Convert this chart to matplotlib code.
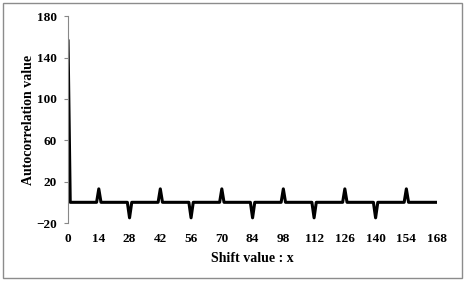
import numpy as np
import matplotlib
matplotlib.use("Agg")
import matplotlib.pyplot as plt
from matplotlib.patches import Rectangle

# Data
shift_values = np.arange(0, 169)
spike_lags = [0, 14, 28, 42, 56, 70, 84, 98, 112, 126, 140, 154]
spike_values = [156, 13, -15, 13, -15, 13, -15, 13, -15, 13, -15, 13]
x_ticks = [0, 14, 28, 42, 56, 70, 84, 98, 112, 126, 140, 154, 168]
y_ticks = [-20, 20, 60, 100, 140, 180]

autocorr = np.zeros(len(shift_values))
for lag, val in zip(spike_lags, spike_values):
    autocorr[lag] = val

plt.rcParams['font.family'] = ['Liberation Serif', 'DejaVu Serif']
plt.rcParams['font.weight'] = 'bold'

fig = plt.figure(figsize=(4.66, 2.83), dpi=100)
ax = fig.add_axes([0.146, 0.212, 0.792, 0.731])
ax.plot(shift_values, autocorr, color='black', linewidth=2.2, solid_joinstyle='round')

ax.set_xlim(0, 168)
ax.set_ylim(-20, 180)
ax.set_xticks(x_ticks)
ax.set_yticks(y_ticks)
for s in ['top', 'right', 'bottom']:
    ax.spines[s].set_visible(False)
ax.spines['left'].set_color('#888888')
ax.spines['left'].set_linewidth(0.8)
ax.tick_params(axis='x', length=0, pad=7, labelsize=9.5)
ax.tick_params(axis='y', length=3, width=0.8, color='#888888', pad=5, labelsize=9.5)
for lbl in ax.get_xticklabels() + ax.get_yticklabels():
    lbl.set_fontweight('bold')

ax.set_xlabel('Shift value : x', fontsize=10, fontweight='bold', labelpad=5)
ax.set_ylabel('Autocorrelation value', fontsize=10, fontweight='bold', labelpad=1)

fig.patches.append(Rectangle((3/466, 5/283), 459/466, 275/283, transform=fig.transFigure,
                             fill=False, edgecolor='#8c8c8c', linewidth=1.0))

fig.savefig('out.png', dpi=100)
